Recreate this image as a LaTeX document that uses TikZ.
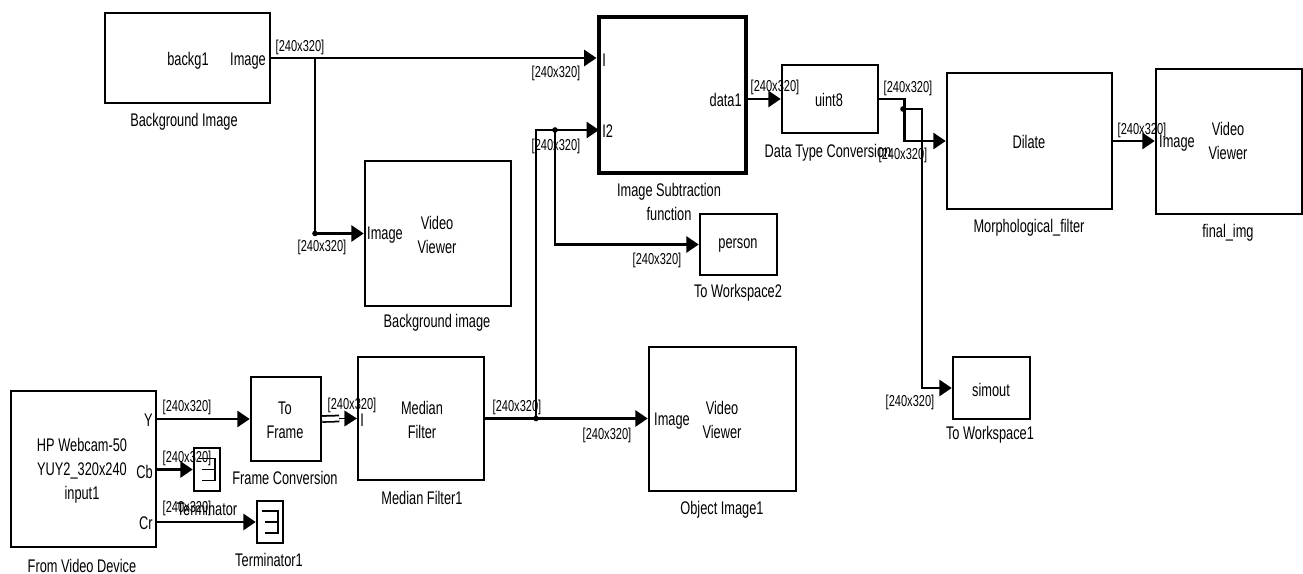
\documentclass[tikz,border=0pt]{standalone}
\usepackage{fontspec}
\setmainfont{Liberation Sans}[FakeStretch=0.7]
\usetikzlibrary{arrows.meta,fit}
\begin{document}
\begin{tikzpicture}[x=0.02cm,y=-0.02cm,
  blk/.style={draw,line width=1.4pt,inner sep=0pt},
  thickblk/.style={blk,line width=2.8pt},
  sig/.style={line width=1.6pt,-{Triangle[length=7pt,width=9pt]}},
  lab/.style={inner sep=0pt,font=\fontsize{10.4}{13.6}\selectfont,align=center},
  sl/.style={inner sep=0pt,font=\fontsize{9}{11}\selectfont},
  dotj/.style={fill,circle,inner sep=0pt,minimum size=3.2pt},
  sym/.style={line width=1pt}]
\fill[white] (0,0) rectangle (1303,574);
\useasboundingbox (0,0) rectangle (1303,574);

% blocks
\node[blk,fit={(105,13)(270,103)}] (bg) {};
\node[thickblk,fit={(599,17)(746,173)}] (sub) {};
\node[blk,fit={(782,65)(878,133)}] (dtc) {};
\node[blk,fit={(947,73)(1112,209)}] (dil) {};
\node[blk,fit={(1156,69)(1302,214)}] (fin) {};
\node[blk,fit={(365,161)(511,306)}] (bv) {};
\node[blk,fit={(700,214)(777,275)}] (per) {};
\node[blk,fit={(953,357)(1030,419)}] (sim) {};
\node[blk,fit={(11,391)(156,547)}] (vd) {};
\node[blk,fit={(251,377)(321,461)}] (tf) {};
\node[blk,fit={(358,357)(484,480)}] (mf) {};
\node[blk,fit={(649,347)(796,491)}] (ov) {};
\node[blk,fit={(194,448)(220,491)}] (term) {};
\node[blk,fit={(257,501)(283,543)}] (term1) {};

% terminator symbols
\foreach \t in {term,term1}{
  \draw[sym] ([shift={(-8,-11)}]\t.center) -- ([shift={(8,-11)}]\t.center) -- ([shift={(8,11)}]\t.center) -- ([shift={(-5,11)}]\t.center);
  \draw[sym] ([shift={(-5,0)}]\t.center) -- ([shift={(8,0)}]\t.center);
}

% junction coordinates
\coordinate (j1) at (315,58);
\coordinate (j2) at (315,233.5);
\coordinate (j4) at (903,109);
\coordinate (j5) at (536,418.5);
\coordinate (j6) at (555,130);
\coordinate (pI2) at (599,130);

% connectors
\draw[sig] (bg.east) -- (bg.east -| sub.west);
\draw[sig] (j1) |- (bv.west);
\draw[sig] (dtc.west -| sub.east) -- (dtc.west);
\draw[sig] (dtc.east) -- ++(25,0) |- (dil.west);
\draw[sig] (j4) -- ++(19,0) |- (sim.west);
\draw[sig] (dil.east) -- (dil.east -| fin.west);
\draw[sig] (tf.west -| vd.east) -- (tf.west);
\draw[sig] (term.west -| vd.east) -- (term.west);
\draw[sig] (term1.west -| vd.east) -- (term1.west);
\draw[line width=1pt,double,double distance=2.4pt] (tf.east) -- ([xshift=-10]mf.west);
\draw[line width=0.1pt,-{Triangle[length=7pt,width=9pt]}] ([xshift=-10]mf.west) -- (mf.west);
\draw[sig] (mf.east) -- (mf.east -| ov.west);
\draw[sig] (j5) |- (pI2);
\draw[sig] (j6) |- (per.west);
\node[dotj] at (j2) {};
\node[dotj] at (j4) {};
\node[dotj] at (j5) {};
\node[dotj] at (j6) {};

% texts inside blocks
\node[lab] at (188,61) {backg1};
\node[lab] at (248,61) {Image};
\node[lab] at (385,235) {Image};
\node[lab] at (437,235) {Video\\Viewer};
\node[lab] at (1177,143) {Image};
\node[lab] at (1228,141) {Video\\Viewer};
\node[lab] at (672,421) {Image};
\node[lab] at (722,420) {Video\\Viewer};
\node[lab,anchor=west] at (602,60) {I};
\node[lab,anchor=west] at (602,131) {I2};
\node[lab,anchor=east] at (742,100) {data1};
\node[lab] at (82,471) {HP Webcam-50\\YUY2\_320x240\\input1};
\node[lab,anchor=east] at (153,420) {Y};
\node[lab,anchor=east] at (153,472) {Cb};
\node[lab,anchor=east] at (153,523) {Cr};
\node[lab,anchor=west] at (360,420) {I};
\node[lab] at (829,100) {uint8};
\node[lab] at (1029,142) {Dilate};
\node[lab] at (738,245) {person};
\node[lab] at (991,390) {simout};
\node[lab] at (285,420) {To\\Frame};
\node[lab] at (422,420) {Median\\Filter};

% block captions
\node[lab] at (184,122) {Background Image};
\node[lab] at (437,323) {Background image};
\node[lab] at (669,202) {Image Subtraction\\function};
\node[lab] at (828,153) {Data Type Conversion};
\node[lab] at (1029,228) {Morphological\_filter};
\node[lab] at (1228,233) {final\_img};
\node[lab] at (738,293) {To Workspace2};
\node[lab] at (990,435) {To Workspace1};
\node[lab] at (82,566) {From Video Device};
\node[lab] at (207,509) {Terminator};
\node[lab] at (269,560) {Terminator1};
\node[lab] at (285,478) {Frame Conversion};
\node[lab] at (422,498) {Median Filter1};
\node[lab] at (722,510) {Object Image1};

% signal labels
\node[sl] at (300,47) {[240x320]};
\node[sl] at (322,247) {[240x320]};
\node[sl] at (556,73) {[240x320]};
\node[sl] at (556,146) {[240x320]};
\node[sl] at (775,87) {[240x320]};
\node[sl] at (908,88) {[240x320]};
\node[sl] at (903,155) {[240x320]};
\node[sl] at (1142,130) {[240x320]};
\node[sl] at (657,260) {[240x320]};
\node[sl] at (910,402) {[240x320]};
\node[sl] at (187,407) {[240x320]};
\node[sl] at (187,458) {[240x320]};
\node[sl] at (187,508) {[240x320]};
\node[sl] at (352,405) {[240x320]};
\node[sl] at (517,407) {[240x320]};
\node[sl] at (607,435) {[240x320]};
\end{tikzpicture}
\end{document}
